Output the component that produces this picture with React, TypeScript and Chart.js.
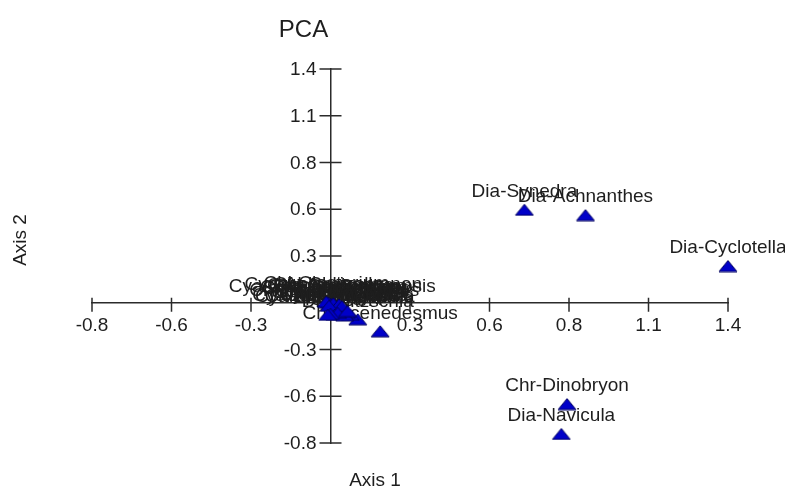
import React, { useEffect, useRef } from 'react';
import { Chart, registerables } from 'chart.js';

Chart.register(...registerables);

// Taxa and their PCA scores (Axis 1, Axis 2)
const taxa = [
  'Dia-Cyclotella',
  'Dia-Synedra',
  'Dia-Achnanthes',
  'Chr-Dinobryon',
  'Dia-Navicula',
  'Chl-Scenedesmus',
  'Dia-Nitzschia',
  'Dia-Fragilaria',
  'Cya-Microcystis',
  'Eug-Euglena',
  'Chl-Pediastrum',
  'Cya-Oscillatoria',
  'Chl-Ankistrodesmus',
  'Cry-Cryptomonas',
  'Cya-Cylindrospermopsis',
  'Cya-Anabaena',
  'Chl-Chlorella',
  'Chl-Closterium',
  'Cya-Aphanizomenon',
  'Chl-Coelastrum',
  'Chl-Cosmarium',
  'Chl-Staurastrum',
  'Cya-Merismopedia',
  'Eug-Phacus',
  'Dia-Cymbella',
  'Cya-Aphanocapsa',
  'Chl-Oocystis',
  'Chl-Crucigenia',
];
const axis1 = [1.4, 0.683, 0.898, 0.833, 0.813, 0.175, 0.096, 0.07, 0.056, 0.045, 0.035, 0.027, 0.013, 0.02, 0.006, 0.0, -0.008, -0.015, 0.01, 0.03, 0.04, -0.005, 0.015, 0.05, 0.025, 0.0, 0.06, -0.01];
const axis2 = [0.22, 0.557, 0.525, -0.607, -0.786, -0.171, -0.099, -0.072, -0.06, -0.066, -0.042, -0.048, -0.036, -0.024, -0.012, -0.006, 0.0, 0.006, -0.003, -0.01, -0.02, -0.018, -0.07, -0.075, -0.06, -0.066, -0.05, -0.072];

const tickValues = [-0.84, -0.56, -0.28, 0, 0.28, 0.56, 0.84, 1.12, 1.4];
const tickLabels = ['-0.8', '-0.6', '-0.3', '', '0.3', '0.6', '0.8', '1.1', '1.4'];

const FONT = '"Liberation Sans", Arial, sans-serif';
const TEXT = '#1e1e1e';
const AXIS = '#2b2b2b';

function makeTriangle(): HTMLCanvasElement {
  const c = document.createElement('canvas');
  c.width = 20;
  c.height = 13;
  const g = c.getContext('2d')!;
  g.beginPath();
  g.moveTo(10, 1);
  g.lineTo(19, 12);
  g.lineTo(1, 12);
  g.closePath();
  g.fillStyle = '#0000c8';
  g.fill();
  g.strokeStyle = '#000060';
  g.lineWidth = 1;
  g.stroke();
  return c;
}

const decorPlugin = {
  id: 'pcaDecor',
  beforeDatasetsDraw(chart: any) {
    const ctx = chart.ctx;
    const xs = chart.scales.x;
    const ys = chart.scales.y;
    const x0 = xs.getPixelForValue(0);
    const y0 = ys.getPixelForValue(0);
    ctx.save();
    ctx.strokeStyle = AXIS;
    ctx.lineWidth = 1.5;
    ctx.beginPath();
    tickValues.forEach((v) => {
      if (v === 0) return;
      const px = xs.getPixelForValue(v);
      ctx.moveTo(px, y0 - 5);
      ctx.lineTo(px, y0 + 9);
      const py = ys.getPixelForValue(v);
      ctx.moveTo(x0 - 11, py);
      ctx.lineTo(x0 + 11, py);
    });
    ctx.stroke();
    // y-axis tick labels, to the left of the centred axis
    ctx.font = `19px ${FONT}`;
    ctx.fillStyle = TEXT;
    ctx.textAlign = 'right';
    ctx.textBaseline = 'middle';
    tickValues.forEach((v, i) => {
      if (!tickLabels[i]) return;
      ctx.fillText(tickLabels[i], x0 - 14, ys.getPixelForValue(v) + 1);
    });
    // point labels
    const meta = chart.getDatasetMeta(0);
    ctx.textAlign = 'center';
    meta.data.forEach((el: any, i: number) => {
      ctx.fillText(taxa[i], el.x, el.y - 18);
    });
    ctx.restore();
  },
  afterDraw(chart: any) {
    const ctx = chart.ctx;
    ctx.save();
    ctx.fillStyle = TEXT;
    ctx.textAlign = 'center';
    ctx.textBaseline = 'alphabetic';
    ctx.font = `24px ${FONT}`;
    ctx.fillText('PCA', 303.5, 37);
    ctx.font = `19px ${FONT}`;
    ctx.fillText('Axis 1', 375, 486);
    ctx.translate(26, 240);
    ctx.rotate(-Math.PI / 2);
    ctx.fillText('Axis 2', 0, 0);
    ctx.restore();
  },
};

export default function App() {
  const ref = useRef<HTMLCanvasElement>(null);
  useEffect(() => {
    if (!ref.current) return;
    const tri = makeTriangle();
    const setTicks = (s: any) => {
      s.ticks = tickValues.map((v) => ({ value: v }));
    };
    const tickFont = { family: FONT, size: 19 };
    const chart = new Chart(ref.current, {
      type: 'scatter',
      data: {
        datasets: [
          {
            data: axis1.map((x, i) => ({ x, y: axis2[i] })),
            pointStyle: tri as any,
            pointRadius: 8,
            clip: false as any,
          },
        ],
      },
      options: {
        animation: false,
        responsive: false,
        events: [],
        layout: { padding: { left: 92, right: 57, top: 69, bottom: 45 } },
        plugins: { legend: { display: false }, tooltip: { enabled: false }, title: { display: false } },
        scales: {
          x: {
            type: 'linear',
            position: { y: 0 } as any,
            min: -0.84,
            max: 1.4,
            afterBuildTicks: setTicks,
            ticks: {
              callback: (_v: any, i: number) => tickLabels[i],
              font: tickFont,
              color: TEXT,
              padding: 4,
              autoSkip: false,
              maxRotation: 0,
            },
            grid: { display: true, drawOnChartArea: false, drawTicks: true, tickLength: 8, color: 'rgba(0,0,0,0)' },
            border: { display: true, color: AXIS, width: 1.5 },
          },
          y: {
            type: 'linear',
            position: { x: 0 } as any,
            min: -0.84,
            max: 1.4,
            afterBuildTicks: setTicks,
            ticks: {
              display: false,
              autoSkip: false,
            },
            grid: { display: false },
            border: { display: true, color: AXIS, width: 1.5 },
          },
        },
      },
      plugins: [decorPlugin],
    });
    return () => chart.destroy();
  }, []);
  return (
    <div style={{ position: 'fixed', left: 0, top: 0, width: 785, height: 488, background: '#fff' }}>
      <canvas ref={ref} width={785} height={488} style={{ display: 'block' }} />
    </div>
  );
}
